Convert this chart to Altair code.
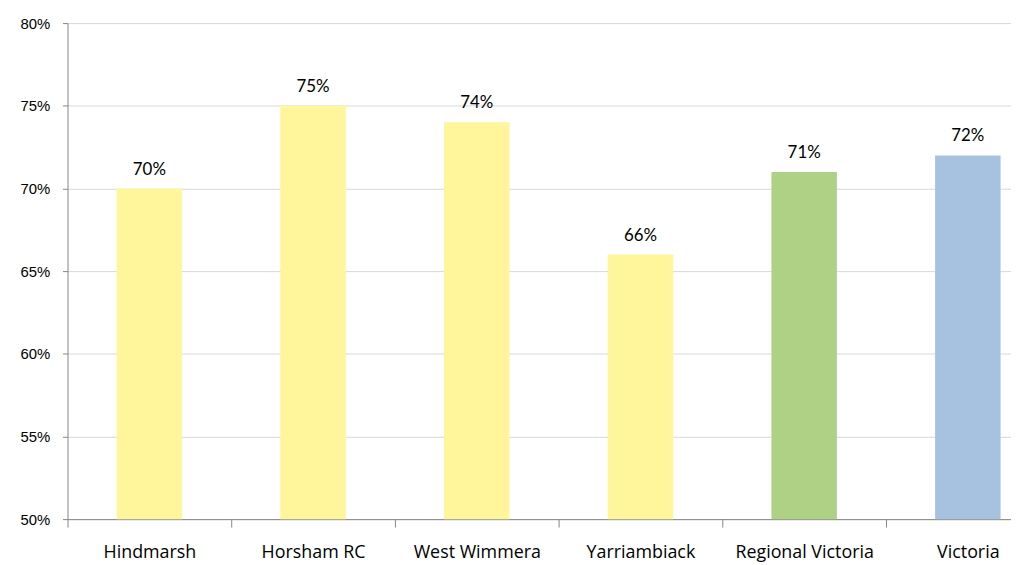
import altair as alt
import pandas as pd

categories = ["Hindmarsh", "Horsham RC", "West Wimmera", "Yarriambiack", "Regional Victoria", "Victoria"]
values = [0.70, 0.75, 0.74, 0.66, 0.71, 0.72]
colors = ["#FFF59A", "#FFF59A", "#FFF59A", "#FFF59A", "#AED186", "#A7C1E0"]
y_ticks = [0.50, 0.55, 0.60, 0.65, 0.70, 0.75, 0.80]

df = pd.DataFrame({"cat": categories, "val": values, "col": colors})

x_enc = alt.X(
    "cat:N",
    sort=categories,
    scale=alt.Scale(range=[0, 990], paddingInner=0, paddingOuter=0),
    axis=alt.Axis(
        title=None, labelAngle=0, tickBand="extent", tickSize=8,
        labelPadding=17, labelFont="Open Sans", labelFontSize=18,
        labelColor="#000000", domainColor="#868686", tickColor="#868686",
        grid=False,
    ),
)
y_enc = alt.Y(
    "val:Q",
    scale=alt.Scale(domain=[0.5, 0.8], nice=False, clamp=True),
    axis=alt.Axis(
        title=None, values=y_ticks, format=".0%", tickSize=5,
        labelFont="Liberation Sans", labelFontSize=15, labelColor="#000000",
        labelPadding=13, domainColor="#868686", tickColor="#868686",
        gridColor="#D9D9D9", grid=True,
    ),
)

bars = alt.Chart(df).mark_bar(y2=500, width=alt.RelativeBandSize(0.4)).encode(
    x=x_enc,
    y=y_enc,
    color=alt.Color("col:N", scale=None),
)

labels = alt.Chart(df).mark_text(
    baseline="bottom", dy=-10, font="Lato", fontSize=17, color="#000000"
).encode(
    x=alt.X("cat:N", sort=categories),
    y="val:Q",
    text=alt.Text("val:Q", format=".0%"),
)

chart = (
    (bars + labels)
    .properties(
        width=951, height=500,
        autosize=alt.AutoSizeParams(type="none"),
        padding={"left": 60, "top": 13, "right": 0, "bottom": 44},
    )
    .configure_view(stroke=None)
)

chart.save("out.html", embed_options={"renderer": "svg", "actions": False})
